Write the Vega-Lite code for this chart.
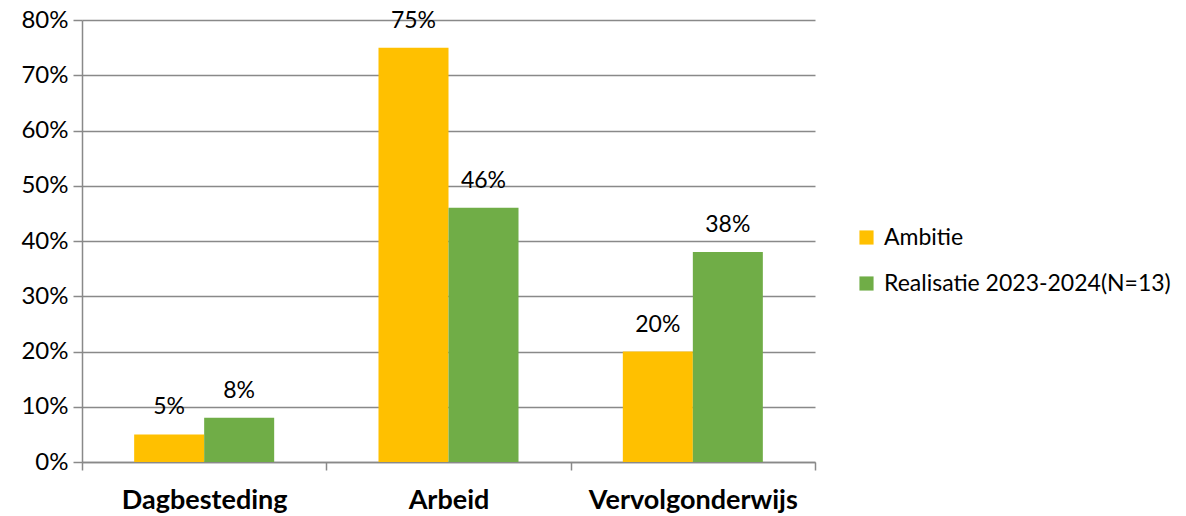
{
  "$schema": "https://vega.github.io/schema/vega-lite/v6.json",
  "width": 733,
  "height": 442,
  "autosize": {"type": "none"},
  "padding": {"left": 82, "top": 20, "right": 371, "bottom": 54},
  "background": "white",
  "config": {
    "view": {"stroke": null},
    "font": "Lato",
    "axis": {"labelFont": "Lato", "labelColor": "#000000"}
  },
  "data": {
    "values": [
      {"category": "Dagbesteding", "series": "Ambitie", "value": 5},
      {"category": "Dagbesteding", "series": "Realisatie 2023-2024(N=13)", "value": 8},
      {"category": "Arbeid", "series": "Ambitie", "value": 75},
      {"category": "Arbeid", "series": "Realisatie 2023-2024(N=13)", "value": 46},
      {"category": "Vervolgonderwijs", "series": "Ambitie", "value": 20},
      {"category": "Vervolgonderwijs", "series": "Realisatie 2023-2024(N=13)", "value": 38}
    ]
  },
  "transform": [{"calculate": "datum.value + '%'", "as": "label"}],
  "encoding": {
    "x": {
      "field": "category",
      "type": "nominal",
      "sort": ["Dagbesteding", "Arbeid", "Vervolgonderwijs"],
      "scale": {"paddingInner": 0, "paddingOuter": 0},
      "axis": {
        "title": null,
        "labelAngle": 0,
        "labelFontSize": 27,
        "labelFontWeight": "bold",
        "labelPadding": 17,
        "labelLimit": 0,
        "tickBand": "extent",
        "tickSize": 8,
        "tickColor": "#898989",
        "tickWidth": 1.5,
        "domainColor": "#898989",
        "domainWidth": 1.5,
        "grid": false
      }
    },
    "xOffset": {
      "field": "series",
      "type": "nominal",
      "scale": {"paddingInner": 0, "paddingOuter": 0.745}
    },
    "y": {
      "field": "value",
      "type": "quantitative",
      "scale": {"domain": [0, 80], "nice": false},
      "axis": {
        "title": null,
        "values": [0, 10, 20, 30, 40, 50, 60, 70, 80],
        "labelExpr": "datum.value + '%'",
        "labelFontSize": 24,
        "labelPadding": 5,
        "tickSize": 9,
        "tickColor": "#898989",
        "tickWidth": 1.5,
        "domainColor": "#898989",
        "domainWidth": 1.5,
        "gridColor": "#898989",
        "gridWidth": 1.5
      }
    }
  },
  "layer": [
    {
      "mark": {"type": "bar"},
      "encoding": {
        "color": {
          "field": "series",
          "type": "nominal",
          "scale": {
            "domain": ["Ambitie", "Realisatie 2023-2024(N=13)"],
            "range": ["#FFC000", "#70AD47"]
          },
          "legend": {
            "title": null,
            "orient": "none",
            "legendX": 773,
            "legendY": 206,
            "symbolType": "square",
            "symbolSize": 200,
            "symbolOpacity": 1,
            "labelFontSize": 23,
            "labelFont": "Lato",
            "labelColor": "#000000",
            "labelLimit": 0,
            "rowPadding": 22,
            "labelOffset": 6
          }
        }
      }
    },
    {
      "mark": {"type": "text", "baseline": "bottom", "dy": -15, "fontSize": 23, "font": "Lato", "color": "#000000"},
      "encoding": {
        "text": {"field": "label", "type": "nominal"},
        "detail": {"field": "series"}
      }
    }
  ]
}
